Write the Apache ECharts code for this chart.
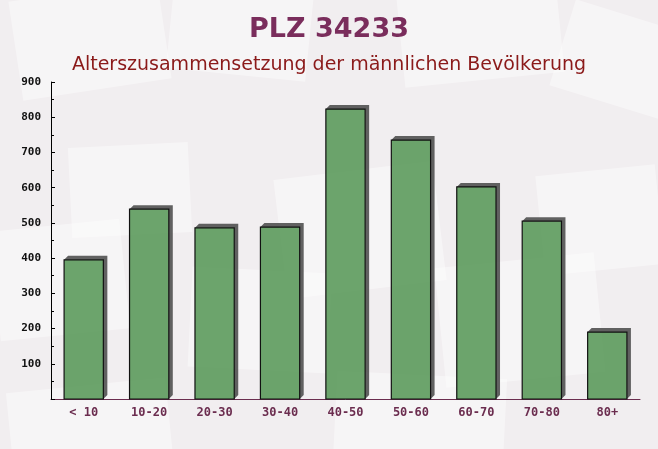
<!DOCTYPE html>
<html><head><meta charset="utf-8">
<script src="https://cdn.jsdelivr.net/npm/echarts@6/dist/echarts.min.js"></script>
<style>html,body{margin:0;padding:0;background:#f1eef0}#c{width:658px;height:449px}</style>
</head><body><div id="c"></div>
<script>
const categories = ['< 10','10-20','20-30','30-40','40-50','50-60','60-70','70-80','80+'];
const values = [395, 539, 486, 488, 823, 735, 602, 505, 190];
const yTicks = [100,200,300,400,500,600,700,800,900];

const chart = echarts.init(document.getElementById('c'));
const env = (x,y,w,h,r)=>({type:'rect',x:x,y:y,rotation:r,shape:{x:-w/2,y:-h/2,width:w,height:h},style:{fill:'rgba(255,255,255,0.4)'},silent:true,z:-10});
function renderBar(params, api){
  const c = api.coord([api.value(0), api.value(1)]);
  const b = api.coord([api.value(0), 0]);
  const band = api.size([1,0])[0];
  const w = band*0.6, d = 4;
  const x = c[0]-w/2, y = c[1], yb = b[1];
  return {type:'group',children:[
    {type:'polygon',shape:{points:[[x,y],[x+d,y-d],[x+w+d,y-d],[x+w+d,yb-d],[x+w,yb],[x+w,y]]},
      style:{fill:'rgba(70,70,70,0.85)'}},
    {type:'rect',shape:{x:x,y:y,width:w,height:yb-y},
      style:{fill:'rgba(96,156,96,0.92)',stroke:'#111',lineWidth:1.2}}
  ]};
}
chart.setOption({
  backgroundColor:'#f1eef0',
  graphic:[
    env(90,40,150,100,0.15), env(240,30,140,90,-0.1), env(480,30,160,100,0.1), env(620,60,120,90,-0.3),
    env(130,190,120,90,0.05), env(360,230,160,120,0.12), env(600,220,120,100,0.1),
    env(60,280,130,110,0.1), env(260,320,140,100,-0.05), env(520,320,160,120,0.1), env(90,430,160,90,0.1), env(420,420,170,90,-0.05)
  ],
  title:[
    {text:'PLZ 34233',left:'center',top:11,textStyle:{fontFamily:'DejaVu Sans',fontWeight:'bold',fontSize:27,color:'#7a2d5c'}},
    {text:'Alterszusammensetzung der männlichen Bevölkerung',left:'center',top:51,textStyle:{fontFamily:'DejaVu Sans',fontWeight:'normal',fontSize:19,color:'#8b1a1a'}}
  ],
  grid:{left:51,right:18,top:82,bottom:50},
  xAxis:{type:'category',data:categories,
    axisLine:{lineStyle:{color:'#6b2d4f',width:1}},
    axisTick:{inside:true,length:5,lineStyle:{color:'#333'}},
    axisLabel:{fontFamily:'DejaVu Sans Mono',fontWeight:'bold',fontSize:12,color:'#6b2d4f',margin:8}},
  yAxis:{type:'value',min:0,max:900,interval:100,
    axisLine:{show:true,lineStyle:{color:'#000'}},
    axisTick:{show:true,inside:true,length:4,lineStyle:{color:'#000'}},
    minorTick:{show:true,splitNumber:2,length:3,lineStyle:{color:'#000'}},
    splitLine:{show:false},
    axisLabel:{fontFamily:'DejaVu Sans Mono',fontWeight:'bold',fontSize:11,color:'#111',margin:10,
      formatter:v=>yTicks.includes(v)?String(v):''}},
  series:[{type:'custom',data:values.map((v,i)=>[i,v]),renderItem:renderBar,encode:{x:0,y:1}}]
});
</script></body></html>
